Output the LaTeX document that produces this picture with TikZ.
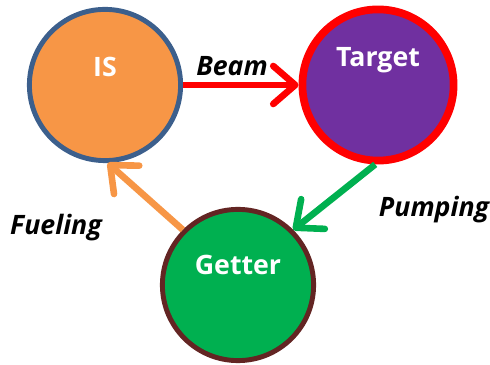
\documentclass[tikz,border=0pt]{standalone}
\usepackage{fontspec}
\setmainfont{Open Sans}
\usetikzlibrary{positioning, arrows.meta}

\definecolor{isorange}{HTML}{F79646}
\definecolor{isblue}{HTML}{3C5F8C}
\definecolor{tgpurple}{HTML}{7030A0}
\definecolor{gtgreen}{HTML}{00B050}
\definecolor{gtbrown}{HTML}{632523}

\tikzset{
    ball/.style={circle, minimum size=3.78cm, inner sep=0pt},
    balltext/.style={white, font=\bfseries\fontsize{19}{19}\selectfont},
    flow/.style={line width=4.7pt, -{Straight Barb[length=0.55cm, width=0.95cm, round]}},
    lbl/.style={font=\bfseries\itshape\fontsize{19}{19}\selectfont}
}

\begin{document}
\begin{tikzpicture}

    \useasboundingbox (0,0) rectangle (12.25,9.1);

    % Circles
    \node[ball, fill=isorange, draw=isblue, line width=3.5pt,
        label={[balltext, yshift=0.45cm]center:IS}] (is) at (2.625,6.975) {};
    \node[ball, fill=tgpurple, draw=red, line width=5.5pt,
        label={[balltext, yshift=0.62cm]center:Target}] (target) at (9.45,6.975) {};
    \node[ball, fill=gtgreen, draw=gtbrown, line width=3.5pt,
        label={[balltext, yshift=0.5cm]center:Getter}] (getter) at (5.95,1.975) {};

    % Arrows
    \draw[flow, red] (is.east) -- (target.west);
    \draw[flow, gtgreen] (target.-92) -- (getter.45);
    \draw[flow, isorange] (getter.135) -- (is.-88);

    % Labels
    \node[lbl] (beam) at (5.8,7.45) {Beam};
    \node[lbl] (pump) at (10.85,3.85) {Pumping};
    \node[lbl] (fuel) at (1.4,3.4) {Fueling};

\end{tikzpicture}
\end{document}
